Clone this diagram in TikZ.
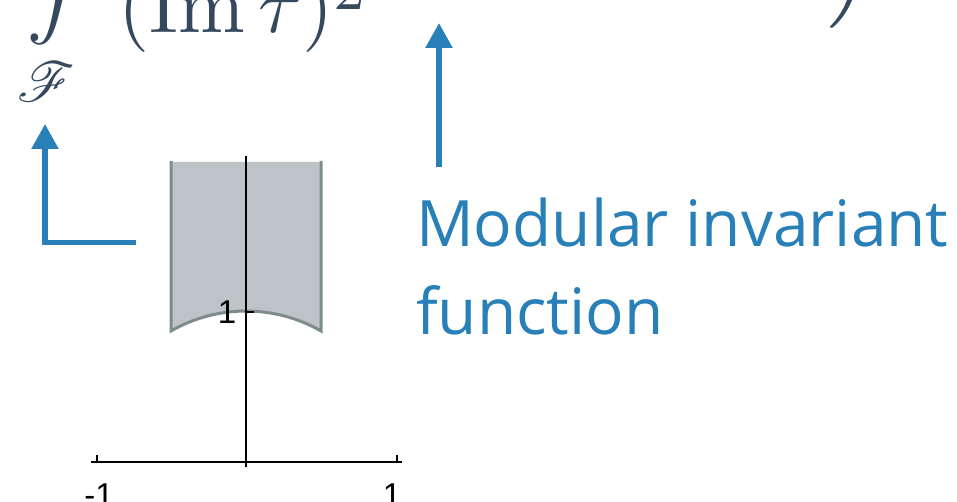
\documentclass[tikz,border=0pt]{standalone}
\usepackage{amsmath}
\usepackage{mathrsfs}
\usepackage{fontspec}
\newfontfamily\opensans{Open Sans}
\newfontfamily\libsans{Liberation Sans}
\usetikzlibrary{arrows.meta}
\definecolor{fblue}{HTML}{2980B9}
\definecolor{fdark}{HTML}{34495E}
\definecolor{ffill}{HTML}{BDC3C7}
\definecolor{fedge}{HTML}{7F8C8D}
\tikzset{
  mathtxt/.style={inner sep=0pt, text=fdark, scale=8, anchor=base west, font=\fontsize{10}{12}\selectfont},
  bluearrow/.style={draw=fblue, line width=5.5pt, line join=miter, -{Triangle[length=25pt,width=26pt]}},
  lbltxt/.style={inner sep=0pt, text=fblue, anchor=base west, font=\opensans\fontsize{64}{88}\selectfont},
  axtxt/.style={inner sep=0pt, anchor=base, font=\libsans\fontsize{33}{40}\selectfont},
  axline/.style={draw=black, line width=1.8pt},
}
\begin{document}
\begin{tikzpicture}[x=1pt,y=-1pt]
\useasboundingbox (0,0) rectangle (957,502);
\clip (0,0) rectangle (957,502);
% formula fragments
\node[mathtxt] (int) at (25,-24) {$\displaystyle\int$};
\node[inner sep=0pt, text=fdark, scale=5.6, font=\fontsize{10}{12}\selectfont] (dom) at (46,82) {$\mathscr{F}$};
\node[mathtxt] (den) at (117,33) {$(\operatorname{Im}\tau)^{\raisebox{-0.7pt}{$\scriptstyle 2$}}$};
\node[mathtxt] (rp) at (826,-24) {$\Big)$};
% fundamental domain
\fill[ffill] (171,162) -- (171,331) arc[start angle=120, end angle=60, x radius=150pt, y radius=149pt] -- (321,162) -- cycle;
\draw[fedge, line width=3pt] (171,161) -- (171,331) arc[start angle=120, end angle=60, x radius=150pt, y radius=149pt] -- (321,161);
% axes
\coordinate (ytop) at (246,156);
\coordinate (ybot) at (246,467);
\coordinate (xl) at (91,462);
\coordinate (xr) at (402,462);
\draw[axline] (ytop) -- (ybot);
\draw[axline] (xl) -- (xr);
\coordinate (t1a) at (97,462); \coordinate (t1b) at (97,455);
\coordinate (t2a) at (397,462); \coordinate (t2b) at (397,455);
\coordinate (t3a) at (246,312); \coordinate (t3b) at (254,312);
\draw[axline] (t1a) -- (t1b);
\draw[axline] (t2a) -- (t2b);
\draw[axline] (t3a) -- (t3b);
\node[axtxt] (lm1) at (99,506.5) {-1};
\node[axtxt] (lp1) at (392,506.5) {1};
\node[axtxt, anchor=center] (ly1) at (227,312) {1};
% blue arrows
\coordinate (lstart) at (136,242.5);
\coordinate (lcorner) at (45,242.5);
\coordinate (ltip) at (45,124);
\draw[bluearrow] (lstart) -- (lcorner) -- (ltip);
\coordinate (rstart) at (439,167);
\coordinate (rtip) at (439,23);
\draw[bluearrow] (rstart) -- (rtip);
% label
\node[lbltxt] (lbl1) at (416,246.5) {Modular invariant};
\node[lbltxt] (lbl2) at (416,334) {function};
\end{tikzpicture}
\end{document}
